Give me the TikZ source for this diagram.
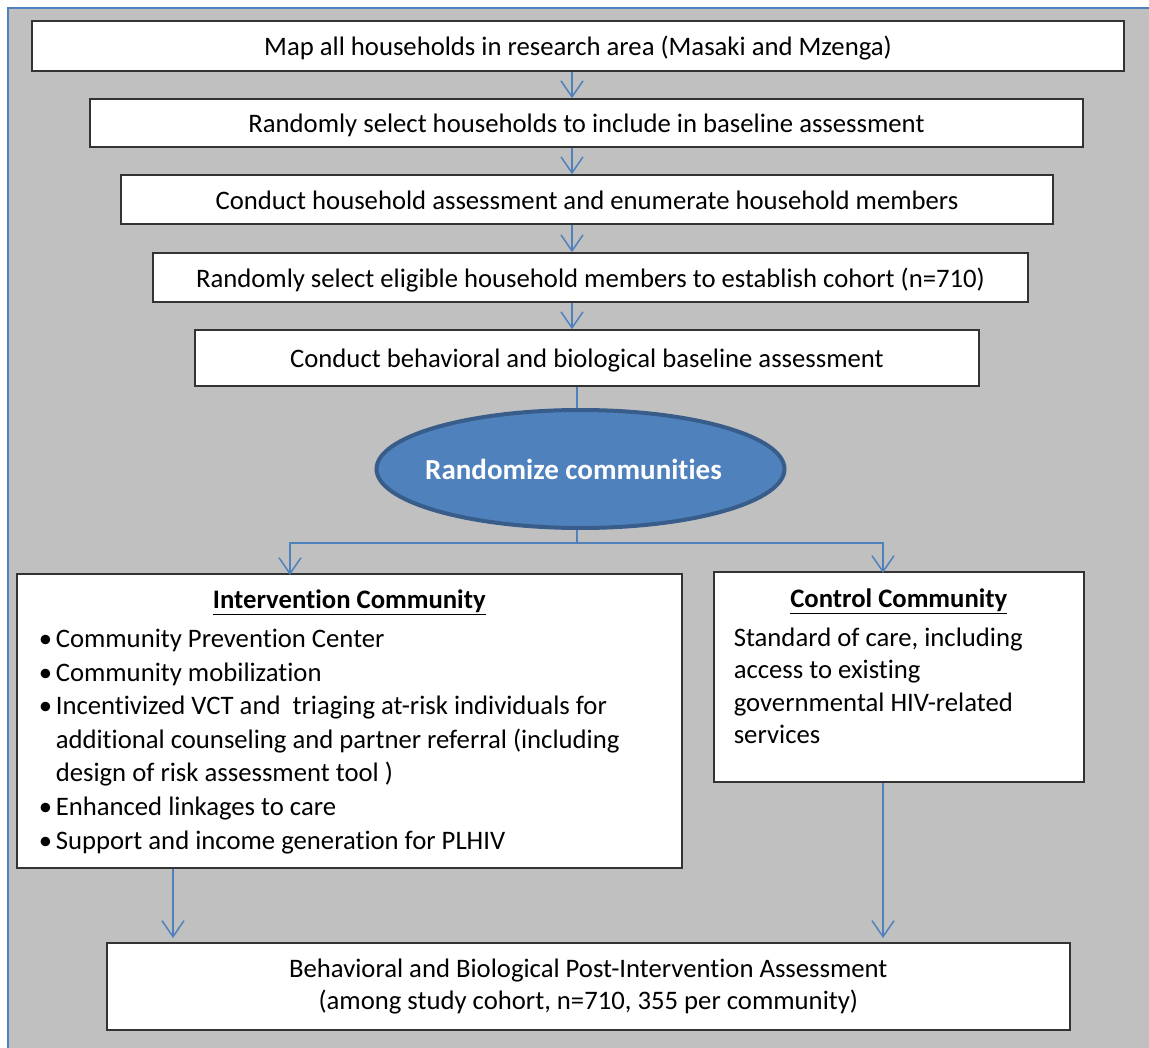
\documentclass[tikz,border=0pt]{standalone}
\usepackage{fontspec}
\setmainfont{Carlito}[Ligatures=NoCommon]
\usetikzlibrary{shapes.geometric,arrows.meta}

\definecolor{panelgray}{RGB}{192,192,192}
\definecolor{linkblue}{RGB}{79,129,189}
\definecolor{ovaledge}{RGB}{56,93,138}

\newcommand{\bitem}[1]{\par\noindent\hangindent=39pt\hangafter=1\hspace*{22pt}\makebox[17pt][l]{\textbullet}#1}
\newcommand{\plainspaces}{\spaceskip=\fontdimen2\font\relax\xspaceskip=\fontdimen2\font\relax}

\begin{document}
\begin{tikzpicture}[x=1pt,y=-1pt,
	every node/.style={font=\fontsize{26.7}{33.6}\selectfont},
	flowbox/.style={draw=black!80, line width=1.6pt, fill=white, inner sep=0pt, align=center},
	onelinebox/.style={flowbox, text height=20pt, text depth=0pt},
	arr/.style={draw=linkblue, line width=1.5pt, -{Straight Barb[length=16pt,width=22pt,line width=1.5pt]}},
	link/.style={draw=linkblue, line width=1.5pt}]
	\useasboundingbox (0,0) rectangle (1149,1048);
	
	%Shape: panel
	\fill[panelgray] (8,8) rectangle (1149,1048);
	\draw[linkblue, line width=2pt] (8,1048) -- (8,8) -- (1149,8);
	
	% Text Node
	\node[onelinebox, minimum width=1092, minimum height=50] (mapall) at (578,46) {Map all households in research area (Masaki and Mzenga)};
	% Text Node
	\node[onelinebox, minimum width=993, minimum height=48] (selhh) at (586.5,123) {Randomly select households to include in baseline assessment};
	% Text Node
	\node[onelinebox, minimum width=932, minimum height=49] (enum) at (587,199.5) {Conduct household assessment and enumerate household members};
	% Text Node
	\node[onelinebox, minimum width=875, minimum height=49] (cohort) at (590.5,277.5) {Randomly select eligible household members to establish cohort (n=710)};
	% Text Node
	\node[onelinebox, minimum width=784, minimum height=56] (baseline) at (587,358) {Conduct behavioral and biological baseline assessment};
	
	%Shape: Ellipse
	\node[ellipse, draw=ovaledge, line width=4pt, fill=linkblue, minimum width=408, minimum height=118, inner sep=0pt, text=white, font=\fontsize{29}{34}\selectfont\bfseries] (randcom) at (580.5,469) {\hspace*{-14pt}Randomize communities};
	
	% Text Node
	\node[flowbox, anchor=north west, text width=665, text height=35, text depth=259, align=left] (interv) at (16,573) {%
		\plainspaces
		{\centering\textbf{\underline{Intervention Community}}\par}\vspace{5pt}
		\bitem{Community Prevention Center}
		\bitem{Community mobilization}
		\bitem{Incentivized VCT and~ triaging at-risk individuals for\hfil\break additional counseling and partner referral (including\hfil\break design of risk assessment tool )}
		\bitem{Enhanced linkages to care}
		\bitem{Support and income generation for PLHIV}\par};
	% Text Node
	\node[flowbox, anchor=north west, text width=370, text height=36, text depth=174, align=left, font=\fontsize{26.7}{32.4}\selectfont] (control) at (713,571) {%
		\plainspaces
		{\centering\textbf{\underline{Control Community}}\par}\vspace{6pt}
		{\leftskip=20pt Standard of care, including\hfil\break access to existing\hfil\break governmental HIV-related\hfil\break services\par}};
	% Text Node
	\node[flowbox, anchor=north west, text width=963, text height=35, text depth=52, font=\fontsize{26.7}{32}\selectfont] (post) at (106,942) {%
		\plainspaces
		Behavioral and Biological Post-Intervention Assessment\\(among study cohort, n=710, 355 per community)};
	
	%Straight Lines
	\coordinate (colx) at (572,0);
	\coordinate (split) at (577,543);
	\coordinate (leftx) at (290,0);
	\coordinate (rightx) at (883,0);
	\coordinate (downl) at (173,0);
	\draw[arr] (mapall.south -| colx) -- (selhh.north -| colx);
	\draw[arr] (selhh.south -| colx) -- (enum.north -| colx);
	\draw[arr] (enum.south -| colx) -- (cohort.north -| colx);
	\draw[arr] (cohort.south -| colx) -- (baseline.north -| colx);
	\draw[link] (baseline.south -| split) -- (randcom.north -| split);
	\draw[link] (randcom.south -| split) -- (split);
	\draw[arr] (split) -| ([yshift=-2pt]interv.north -| leftx);
	\draw[arr] (split) -| ([yshift=-2pt]control.north -| rightx);
	\draw[arr, shorten >=4pt] (interv.south -| downl) -- (post.north -| downl);
	\draw[arr, shorten >=4pt] (control.south -| rightx) -- (post.north -| rightx);
	
\end{tikzpicture}
\end{document}
